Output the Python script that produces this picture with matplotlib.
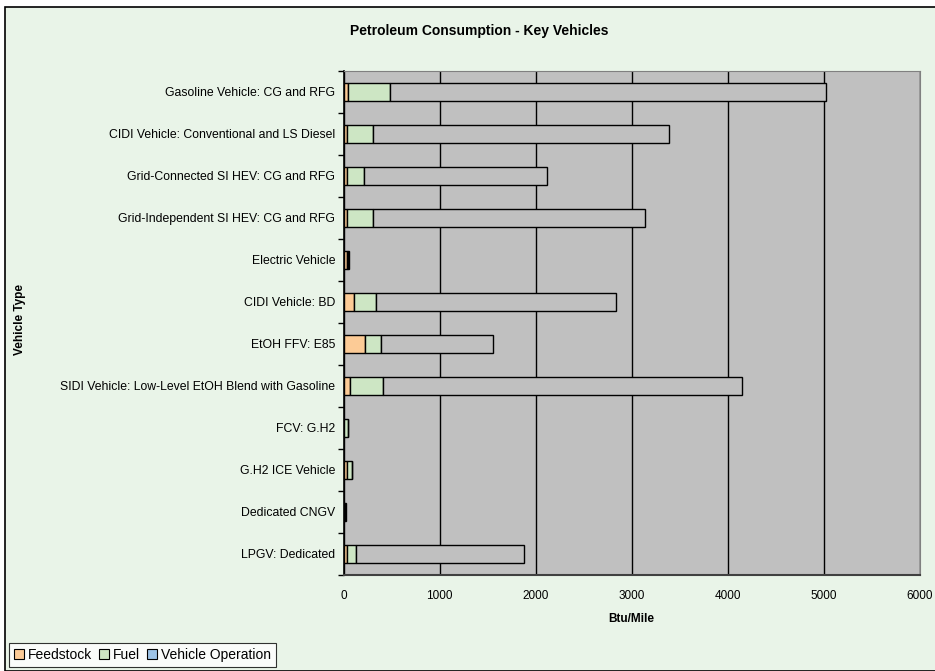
import matplotlib
matplotlib.use("Agg")
import matplotlib.pyplot as plt
from matplotlib.patches import Patch, Rectangle
import numpy as np

plt.rcParams['font.family'] = ['Liberation Sans', 'DejaVu Sans']

categories = [
    "Gasoline Vehicle: CG and RFG",
    "CIDI Vehicle: Conventional and LS Diesel",
    "Grid-Connected SI HEV: CG and RFG",
    "Grid-Independent SI HEV: CG and RFG",
    "Electric Vehicle",
    "CIDI Vehicle: BD",
    "EtOH FFV: E85",
    "SIDI Vehicle: Low-Level EtOH Blend with Gasoline",
    "FCV: G.H2",
    "G.H2 ICE Vehicle",
    "Dedicated CNGV",
    "LPGV: Dedicated",
]
feedstock = [48, 31, 31, 31, 35, 107, 219, 62, 8, 35, 8, 38]
fuel = [437, 274, 177, 274, 5, 233, 173, 351, 40, 51, 8, 93]
vehicle_operation = [4543, 3085, 1910, 2834, 20, 2500, 1167, 3737, 0, 0, 10, 1744]

x_ticks = [0, 1000, 2000, 3000, 4000, 5000, 6000]

fig_bg = "#E9F4E8"
plot_bg = "#C0C0C0"
c_feed = "#FCCB96"
c_fuel = "#CDE6C4"
c_op = "#C0C0C0"
c_op_legend = "#9CC3E6"

fig = plt.figure(figsize=(9.35, 6.71), dpi=100)
fig.patch.set_facecolor("white")
# chart area panel with black frame
fig.patches.append(Rectangle((5 / 935, 0), 1.0, 1 - 7 / 671, transform=fig.transFigure,
                             facecolor=fig_bg, edgecolor="black", linewidth=1.2, zorder=-1))

ax = fig.add_axes([343.7 / 935, 1 - 575 / 671, 576 / 935, (575 - 70.7) / 671])
ax.set_facecolor(plot_bg)

y = np.arange(len(categories))
h = 0.43
feed = np.array(feedstock)
fu = np.array(fuel)
op = np.array(vehicle_operation)
kw = dict(height=h, edgecolor="black", linewidth=1.0, zorder=3)
ax.barh(y, feed, color=c_feed, **kw)
ax.barh(y, fu, left=feed, color=c_fuel, **kw)
ax.barh(y, op, left=feed + fu, color=c_op, **kw)

ax.set_xlim(0, 6000)
ax.set_ylim(len(categories) - 0.5, -0.5)
ax.set_xticks(x_ticks)
ax.set_xticklabels([str(t) for t in x_ticks], fontsize=8.5)
ax.tick_params(axis="x", length=0, pad=11)
ax.grid(axis="x", color="black", linewidth=1.0, zorder=1)
ax.set_axisbelow(True)

ax.set_yticks(y)
ax.set_yticklabels(categories, fontsize=8.8)
ax.tick_params(axis="y", which="major", length=0, pad=6)
ax.set_yticks(np.arange(-0.5, len(categories), 1.0), minor=True)
ax.tick_params(axis="y", which="minor", length=4, width=1, color="black", direction="out")

for side in ("top", "right"):
    ax.spines[side].set_color("#808080")
ax.spines["left"].set_color("black")
ax.spines["left"].set_linewidth(1.2)
ax.spines["bottom"].set_color("#404040")
ax.spines["bottom"].set_linewidth(1.5)

ax.set_xlabel("Btu/Mile", fontsize=8.5, fontweight="bold", labelpad=8)
fig.text(20 / 935, 1 - 320 / 671, "Vehicle Type", rotation=90, fontsize=8.5,
         fontweight="bold", ha="center", va="center")
fig.text(479 / 935, 1 - 31 / 671, "Petroleum Consumption - Key Vehicles", fontsize=10,
         fontweight="bold", ha="center", va="center")

handles = [Patch(facecolor=c_feed, edgecolor="black", linewidth=0.8),
           Patch(facecolor=c_fuel, edgecolor="black", linewidth=0.8),
           Patch(facecolor=c_op_legend, edgecolor="black", linewidth=0.8)]
leg = fig.legend(handles, ["Feedstock", "Fuel", "Vehicle Operation"], ncol=3,
                 loc="lower left", bbox_to_anchor=(9 / 935, 1 - 667 / 671),
                 fontsize=10, frameon=True, fancybox=False, handlelength=0.7,
                 handleheight=0.7, handletextpad=0.3, columnspacing=0.5,
                 borderpad=0.35, borderaxespad=0)
leg.get_frame().set_edgecolor("black")
leg.get_frame().set_facecolor("white")
leg.get_frame().set_linewidth(0.8)

fig.savefig("out.png", dpi=100, facecolor=fig.get_facecolor())
